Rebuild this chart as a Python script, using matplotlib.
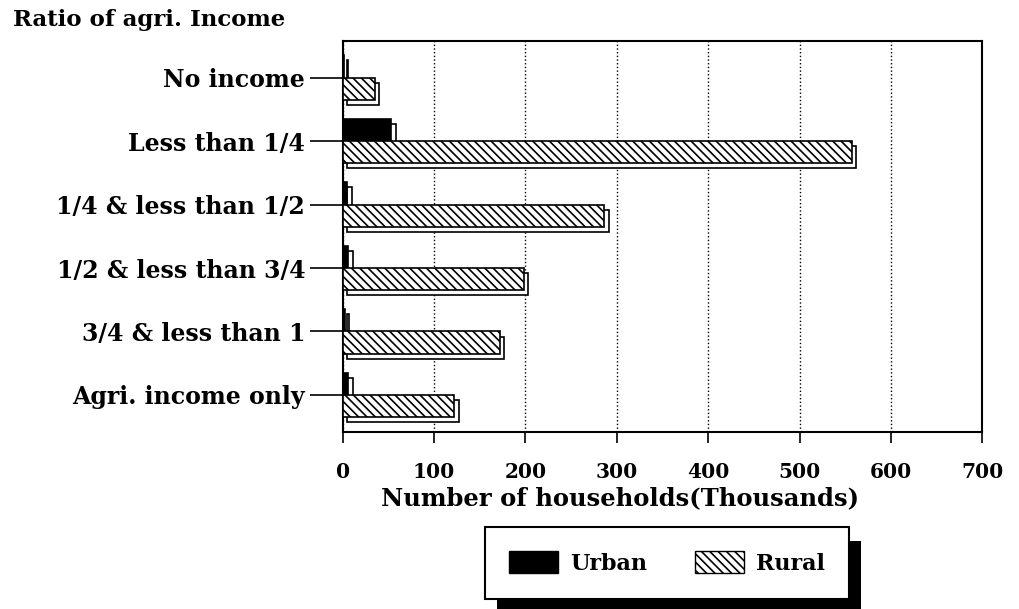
import numpy as np
import matplotlib
matplotlib.use("Agg")
import matplotlib.pyplot as plt
from matplotlib.patches import Patch, Rectangle

# 数据
categories = ["No income", "Less than 1/4", "1/4 & less than 1/2",
              "1/2 & less than 3/4", "3/4 & less than 1", "Agri. income only"]
urban = [1, 53, 5, 6, 2, 6]
rural = [35, 557, 286, 198, 172, 122]
xticks = [0, 100, 200, 300, 400, 500, 600, 700]

plt.rcParams['font.family'] = ['DejaVu Serif']
plt.rcParams['font.weight'] = 'bold'
plt.rcParams['hatch.linewidth'] = 1.2

fig = plt.figure(figsize=(10.2, 6.09), dpi=100)
ax = fig.add_axes([0.336, 0.291, 0.627, 0.642])

y = np.arange(len(categories))
h = 0.35
# 3D效果的偏移量
dx = 5
dy = 0.08

# 背面（立体效果）
ax.barh(y - h / 2 + dy, np.array(urban), height=h, left=dx, color='white',
        edgecolor='black', linewidth=1.2, zorder=2)
ax.barh(y + h / 2 + dy, np.array(rural), height=h, left=dx, color='white',
        edgecolor='black', linewidth=1.2, zorder=2)
# 正面
ax.barh(y - h / 2, urban, height=h, color='black', edgecolor='black',
        linewidth=1.2, zorder=3)
ax.barh(y + h / 2, rural, height=h, color='white', edgecolor='black',
        hatch='\\\\\\\\', linewidth=1.2, zorder=3)

ax.set_ylim(len(categories) - 0.42, -0.58)
ax.set_xlim(0, 700)
ax.set_yticks(y)
ax.set_yticklabels(categories, fontsize=17)
ax.set_xticks(xticks)
ax.set_xticklabels([str(v) for v in xticks], fontsize=14.5)
ax.tick_params(axis='y', length=24, width=1.2, pad=3)
ax.tick_params(axis='x', length=8, width=1.2, pad=14)

ax.xaxis.grid(True, linestyle=':', color='black', linewidth=1.0)
ax.set_axisbelow(True)
for s in ax.spines.values():
    s.set_linewidth(1.5)

ax.set_xlabel('Number of households(Thousands)', fontsize=17.5, fontweight='bold')
ax.xaxis.set_label_coords(0.433, -0.14)

fig.text(0.013, 0.967, 'Ratio of agri. Income', fontsize=16.5, va='center', ha='left')

handles = [Patch(facecolor='black', edgecolor='black', label='Urban'),
           Patch(facecolor='white', edgecolor='black', hatch='\\\\\\\\', label='Rural')]
leg = fig.legend(handles=handles, loc='center', bbox_to_anchor=(0.654, 0.0755),
                 ncol=2, fontsize=16, frameon=True, fancybox=False,
                 edgecolor='black', handlelength=2.2, handleheight=1.1,
                 borderpad=1.1, columnspacing=2.15, handletextpad=0.55)
leg.get_frame().set_linewidth(1.5)
leg.get_frame().set_alpha(1)

# 图例的黑色阴影
fig.canvas.draw()
bb = leg.get_window_extent()
W, H = fig.bbox.width, fig.bbox.height
shadow = Rectangle(((bb.x0 + 12) / W, (bb.y0 - 14) / H), bb.width / W, bb.height / H,
                   transform=fig.transFigure, facecolor='black', edgecolor='none', zorder=4)
fig.patches.append(shadow)
leg.set_zorder(5)

fig.savefig('out.png', dpi=100)
